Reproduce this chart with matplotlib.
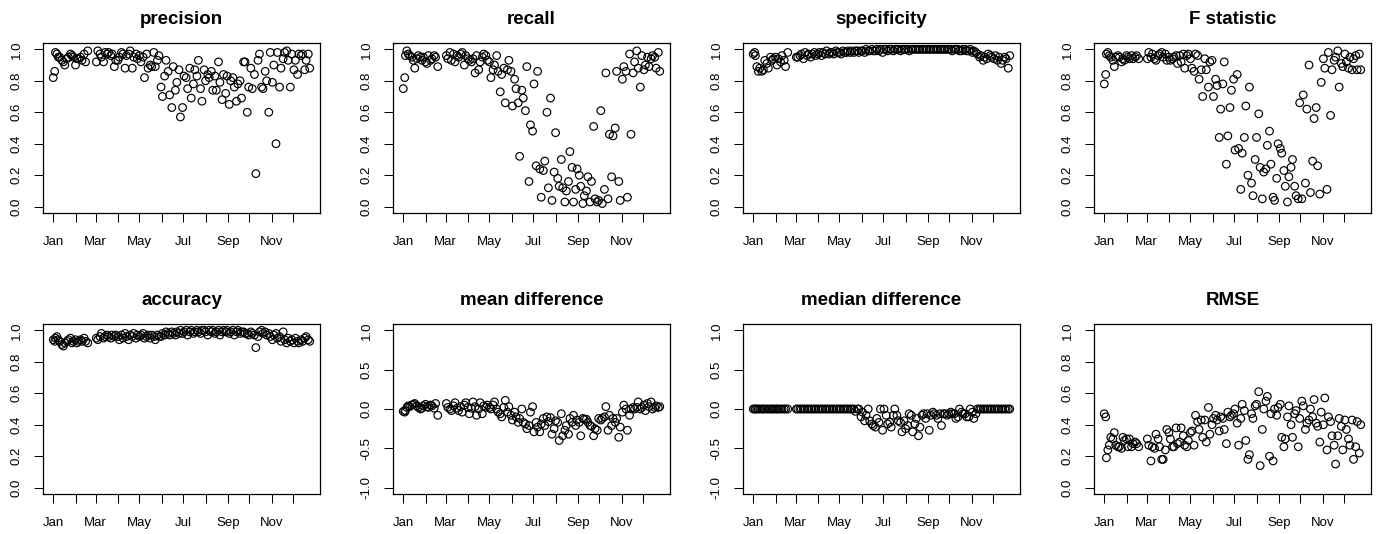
import numpy as np
import matplotlib.pyplot as plt
import matplotlib.dates as mdates

plt.rcParams['font.family'] = ['Liberation Sans', 'DejaVu Sans']

# days since 1 Jan on which the forecasts were scored
days = [0, 2, 3, 5, 7, 9, 12, 14, 16, 19, 21, 24, 26, 28, 31, 33, 35, 38, 40, 43, 45, 48,
        60, 62, 65, 67, 70, 72, 75, 77, 80, 82, 85, 87,
        90, 92, 95, 97, 100, 102, 105, 107, 110, 112, 115, 117,
        120, 122, 125, 127, 130, 132, 135, 137, 140, 142, 145, 147,
        150, 152, 155, 157, 160, 162, 165, 167, 170, 172, 175, 177,
        180, 182, 185, 187, 190, 192, 195, 197, 200, 202, 205, 207,
        210, 212, 215, 217, 220, 222, 225, 227, 230, 232, 235, 237,
        240, 242, 245, 247, 250, 252, 255, 257, 260, 262, 265, 267,
        270, 272, 275, 277, 280, 282, 285, 287, 290, 292, 295, 297,
        300, 302, 305, 307, 310, 312, 315, 317, 320, 322, 325, 327,
        330, 332, 335, 337, 340, 342, 345, 347, 350, 352, 355, 357]

precision = [.82, .86, .98, .97, .95, .95, .93, .92, .90, .94, .95, .97, .96, .95, .90, .94, .94, .95, .93, .97, .92, .99,
             .92, .99, .97, .95, .92, .98, .97, .98, .96, .97, .89, .93,
             .93, .95, .98, .97, .88, .96, .97, .99, .88, .95, .97, .94,
             .96, .92, .95, .82, .97, .88, .90, .89, .98, .89, .93, .96,
             .76, .70, .83, .93, .86, .71, .63, .89, .74, .79, .87, .57,
             .63, .83, .82, .75, .88, .69, .78, .87, .83, .93, .75, .67,
             .87, .80, .84, .82, .86, .74, .83, .74, .92, .79, .68, .84,
             .72, .83, .65, .80, .82, .76, .67, .78, .80, .69, .92, .92,
             .60, .76, .88, .75, .84, .21, .93, .97, .76, .75, .86, .80,
             .60, .98, .79, .90, .40, .98, .76, .88, .94, .98, .99, .93,
             .76, .97, .87, .93, .84, .97, .96, .97, .87, .93, .97, .88]

recall = [.75, .82, .96, .99, .97, .96, .95, .93, .88, .94, .96, .95, .93, .95, .92, .91, .96, .93, .94, .96, .95, .89,
          .96, .94, .98, .93, .97, .92, .96, .95, .97, .98, .90, .96,
          .94, .93, .92, .94, .85, .96, .87, .92, .95, .97, .96, .93,
          .92, .82, .87, .90, .96, .86, .73, .84, .88, .66, .87, .93,
          .86, .64, .81, .75, .66, .32, .74, .69, .61, .89, .16, .52,
          .48, .78, .26, .86, .24, .06, .23, .29, .60, .12, .69, .04,
          .22, .47, .18, .13, .30, .12, .03, .10, .16, .35, .25, .03,
          .11, .24, .20, .13, .02, .07, .10, .19, .03, .16, .51, .05,
          .03, .04, .61, .02, .11, .85, .05, .46, .19, .45, .50, .86,
          .16, .04, .81, .89, .86, .06, .97, .46, .85, .92, .99, .88,
          .76, .96, .87, .90, .95, .89, .94, .96, .95, .88, .98, .86]

specificity = [.97, .98, .96, .89, .86, .88, .86, .87, .93, .91, .88, .95, .93, .94, .95, .90, .94, .92, .96, .93, .89, .98,
               .95, .95, .96, .97, .94, .98, .96, .97, .95, .97, .98, .96,
               .97, .98, .96, .98, .97, .99, .97, .98, .98, .97, .99, .98,
               .98, .97, .99, .98, .98, .99, .98, .99, .98, .99, .99, .98,
               .99, .99, .98, 1.0, .99, .99, 1.0, .99, .99, 1.0, .99, 1.0,
               .98, 1.0, 1.0, .99, 1.0, 1.0, .99, 1.0, 1.0, 1.0, .99, 1.0,
               1.0, 1.0, 1.0, .99, 1.0, 1.0, 1.0, 1.0, 1.0, 1.0, 1.0, 1.0,
               1.0, 1.0, 1.0, 1.0, 1.0, 1.0, 1.0, 1.0, 1.0, 1.0, 1.0, 1.0,
               1.0, 1.0, 1.0, .99, 1.0, 1.0, 1.0, .99, .99, 1.0, 1.0, .99,
               .99, 1.0, .98, .99, .98, .97, .95, .96, .93, .95, .94, .97,
               .96, .95, .94, .96, .93, .95, .91, .93, .95, .94, .88, .96]

f_stat = [.78, .84, .97, .98, .96, .95, .93, .89, .95, .96, .95, .92, .94, .93, .96, .95, .94, .96, .94, .95, .96, .94,
          .94, .98, .95, .97, .94, .93, .96, .97, .98, .95, .97, .93,
          .95, .93, .94, .95, .96, .91, .96, .92, .97, .88, .96, .97,
          .94, .88, .86, .97, .96, .81, .87, .70, .94, .87, .76, .92,
          .93, .70, .81, .77, .44, .62, .78, .92, .27, .45, .63, .74,
          .81, .36, .84, .37, .11, .34, .44, .64, .20, .76, .15, .07,
          .30, .44, .59, .25, .05, .22, .24, .39, .48, .27, .06, .04,
          .18, .40, .37, .34, .23, .13, .03, .19, .25, .30, .13, .07,
          .05, .66, .05, .71, .15, .62, .90, .09, .29, .56, .63, .26,
          .08, .79, .94, .88, .11, .98, .58, .87, .93, .95, .99, .76,
          .91, .89, .97, .92, .88, .95, .87, .94, .96, .87, .97, .87]

accuracy = [.94, .93, .95, .96, .94, .93, .91, .90, .92, .93, .94, .95, .92, .93, .94, .92, .93, .94, .93, .95, .93, .92,
            .95, .94, .96, .98, .95, .96, .97, .96, .95, .97, .96, .97,
            .96, .94, .97, .95, .98, .96, .94, .97, .96, .98, .95, .97,
            .96, .97, .98, .95, .96, .97, .95, .97, .96, .94, .97, .96,
            .96, .98, .97, .99, .98, .97, .99, .98, .97, .99, .98, 1.0,
            .98, .99, 1.0, .97, .99, 1.0, .98, .99, 1.0, .99, .98, 1.0,
            1.0, .99, .97, 1.0, .99, 1.0, .98, .99, 1.0, .97, .99, 1.0,
            .99, 1.0, .98, .99, 1.0, .97, .99, 1.0, .98, .99, .99, .98,
            .98, .97, .99, .98, .97, .89, .96, .99, 1.0, .98, .99, .97,
            .98, .96, .94, .97, .98, .95, .96, .93, .99, .94, .92, .95,
            .93, .94, .92, .95, .93, .92, .94, .93, .95, .96, .94, .93]

mean_diff = [-.03, -.04, -.02, .02, .04, .03, .05, .06, .07, .04, .02, .00, .01, .04, .06, .03, .02, .05, .04, .01, .07, -.08,
             .07, .02, .00, -.02, .04, .08, .01, -.02, .03, -.04, .05, .08,
             .02, -.06, .01, .09, .03, -.08, .00, .08, -.06, .04, .02, .05,
             .02, .00, .05, .09, .00, -.04, -.06, -.10, .02, .11, -.04, .03,
             -.08, -.14, -.04, -.10, -.17, -.12, .00, -.17, -.19, -.25, -.21, -.04,
             .03, -.29, -.17, -.23, -.29, -.19, -.12, -.21, -.10, -.16, -.11, -.32,
             -.25, -.15, -.17, -.40, -.06, -.34, -.27, -.21, -.32, -.12, -.17, -.08,
             -.21, -.14, -.17, -.34, -.12, -.13, -.13, -.17, -.21, -.22, -.34, -.25,
             -.27, -.12, -.14, -.12, -.10, .03, -.27, -.08, -.21, -.12, -.17, -.12,
             -.36, -.23, -.04, .05, .00, -.27, -.08, .00, .02, .00, .02, .09,
             .00, .02, .05, -.02, .07, .03, .09, .00, .02, .04, .02, .03]

median_diff = [0] * 22 + [0] * 12 + [0] * 12 + \
              [0, 0, 0, 0, 0, 0, 0, 0, 0, -.03, 0, 0] + \
              [-.10, -.04, -.15, -.08, .00, -.15, -.19, -.21, -.23, -.12, -.17, .00,
               -.27, .00, -.08, -.19, -.17, -.23, -.08, .00, -.08, -.15, -.17, -.29,
               -.15, -.25, -.21, -.06, -.08, -.29, -.19, -.12, -.34, -.23, -.08, -.06,
               -.12, -.06, -.27, -.08, -.04, -.06, -.08, -.12, -.06, -.21, -.06, -.06,
               -.08, -.06, -.04, -.06, -.06, -.12, -.10, .00, -.04, -.06, -.06, -.10,
               -.10, .00, -.04, -.12, -.06, .00, .00, .00, .00, .00, .00, .00] + [0] * 12

rmse = [.47, .45, .19, .24, .27, .32, .31, .35, .27, .26, .26, .25, .32, .30, .31, .26, .31, .26, .28, .29, .28, .26,
        .31, .27, .17, .26, .25, .34, .31, .26, .18, .18, .24, .37,
        .35, .31, .26, .26, .38, .28, .29, .38, .33, .27, .26, .30,
        .35, .36, .27, .46, .42, .37, .43, .32, .43, .29, .51, .34,
        .40, .44, .46, .43, .36, .45, .44, .37, .28, .48, .45, .46,
        .47, .50, .41, .27, .44, .53, .49, .30, .18, .21, .47, .44,
        .52, .53, .61, .14, .37, .50, .55, .58, .20, .47, .17, .50,
        .46, .51, .53, .32, .26, .31, .45, .52, .40, .32, .47, .49,
        .26, .44, .55, .52, .37, .41, .43, .50, .45, .56, .41, .39,
        .29, .48, .40, .57, .24, .45, .42, .33, .27, .15, .33, .44,
        .39, .24, .43, .37, .31, .27, .43, .18, .26, .42, .22, .40]

panels = [('precision', precision, (0, 1)), ('recall', recall, (0, 1)),
          ('specificity', specificity, (0, 1)), ('F statistic', f_stat, (0, 1)),
          ('accuracy', accuracy, (0, 1)), ('mean difference', mean_diff, (-1, 1)),
          ('median difference', median_diff, (-1, 1)), ('RMSE', rmse, (0, 1))]

start = np.datetime64('2015-01-01')
dates = start + np.array(days)
months = [np.datetime64('2015-%02d-01' % m) for m in range(1, 13)]
month_names = ['Jan', '', 'Mar', '', 'May', '', 'Jul', '', 'Sep', '', 'Nov', '']

W, H = 1378, 534
fig = plt.figure(figsize=(W / 100, H / 100), dpi=100)
lefts = [43, 393, 743, 1094]
tops = [43, 324]

x0, x1 = mdates.date2num(dates.min()), mdates.date2num(dates.max())
xpad = 0.04 * (x1 - x0)

for i, (title, vals, lim) in enumerate(panels):
    assert len(vals) == len(days), title
    row, col = divmod(i, 4)
    ax = fig.add_axes([lefts[col] / W, (H - tops[row] - 170) / H, 277 / W, 170 / H])
    ax.scatter(dates, vals, s=30, facecolors='none', edgecolors='black', linewidths=0.85)
    ax.set_xlim(x0 - xpad, x1 + xpad)
    span = lim[1] - lim[0]
    ax.set_ylim(lim[0] - 0.04 * span, lim[1] + 0.04 * span)
    ax.set_xticks(mdates.date2num(months))
    ax.set_xticklabels(month_names)
    yt = np.linspace(lim[0], lim[1], 6 if lim[0] == 0 else 5)
    ax.set_yticks(yt)
    ax.set_yticklabels(['%.1f' % v for v in yt], rotation=90, va='center')
    ax.tick_params(length=6.5, width=0.75, labelsize=9.5, colors='black')
    ax.tick_params(axis='x', pad=10)
    ax.tick_params(axis='y', pad=8)
    for s in ax.spines.values():
        s.set_linewidth(0.9)
    ax.set_title(title, fontsize=13.5, fontweight='bold', pad=14)

fig.savefig('out.png', dpi=100)
